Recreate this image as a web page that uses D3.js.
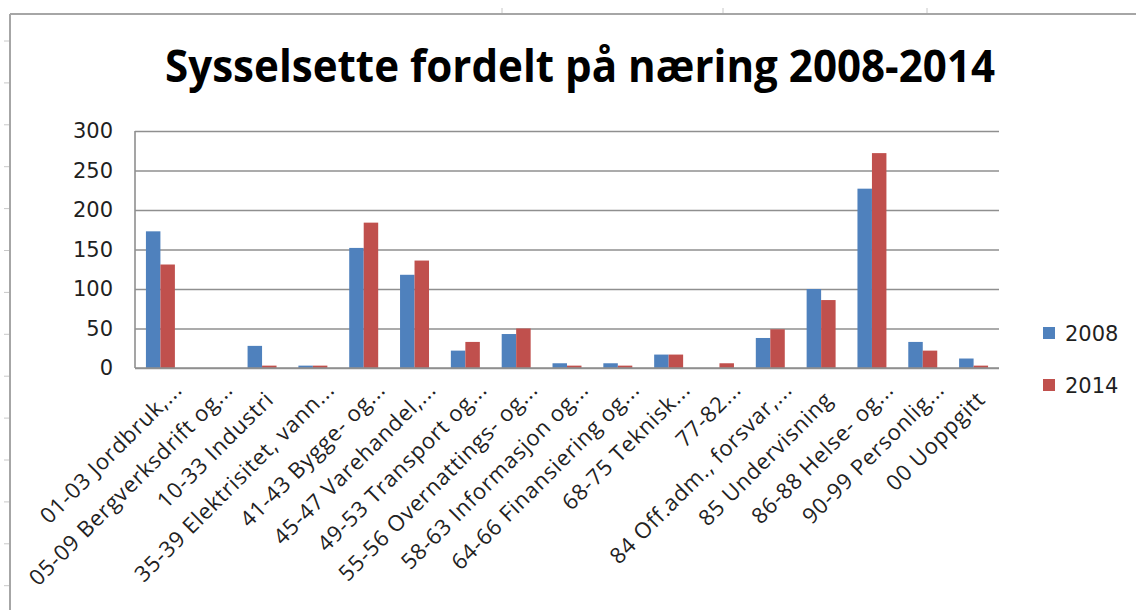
<!DOCTYPE html>
<html>
<head>
<meta charset="utf-8">
<script src="https://cdnjs.cloudflare.com/ajax/libs/d3/7.8.5/d3.min.js"></script>
<style>
  html, body { margin: 0; padding: 0; background: #fff; }
  svg { display: block; }
</style>
</head>
<body>
<svg id="chart" width="1136" height="610"></svg>
<script>
const title = "Sysselsette fordelt på næring 2008-2014";
const categories = [
  "01-03 Jordbruk,...",
  "05-09 Bergverksdrift og...",
  "10-33 Industri",
  "35-39 Elektrisitet, vann...",
  "41-43 Bygge- og...",
  "45-47 Varehandel,...",
  "49-53 Transport og...",
  "55-56 Overnattings- og...",
  "58-63 Informasjon og...",
  "64-66 Finansiering og...",
  "68-75 Teknisk...",
  "77-82...",
  "84 Off.adm., forsvar,...",
  "85 Undervisning",
  "86-88 Helse- og...",
  "90-99 Personlig...",
  "00 Uoppgitt"
];
const seriesNames = ["2008", "2014"];
const values2008 = [173, 0, 28, 3, 152, 118, 22, 43, 6, 6, 17, 0, 38, 100, 227, 33, 12];
const values2014 = [131, 0, 3, 3, 184, 136, 33, 50, 3, 3, 17, 6, 49, 86, 272, 22, 3];
const yTicks = [0, 50, 100, 150, 200, 250, 300];
const colors = ["#4F81BD", "#C0504D"];

const svg = d3.select("#chart");
const W = 1136, H = 610;
const plot = { left: 135, right: 999, top: 131, bottom: 368 };

// spreadsheet frame (decoration)
const frameG = svg.append("g");
frameG.append("line").attr("x1", 10).attr("x2", W).attr("y1", 14).attr("y2", 14)
  .attr("stroke", "#a6a6a6").attr("stroke-width", 2);
frameG.append("line").attr("x1", 10).attr("x2", 10).attr("y1", 14).attr("y2", H)
  .attr("stroke", "#a6a6a6").attr("stroke-width", 2);
frameG.selectAll(".lt").data(d3.range(41, H, 41.9)).enter().append("line")
  .attr("x1", 4).attr("x2", 9).attr("y1", d => d).attr("y2", d => d)
  .attr("stroke", "#c8c8c8").attr("stroke-width", 1);
frameG.selectAll(".tt").data([502, 723, 927]).enter().append("line")
  .attr("x1", d => d).attr("x2", d => d).attr("y1", 8).attr("y2", 13)
  .attr("stroke", "#c8c8c8").attr("stroke-width", 1);

// title
svg.append("text")
  .attr("x", 165).attr("y", 82)
  .attr("textLength", 830).attr("lengthAdjust", "spacingAndGlyphs")
  .attr("font-family", "'Open Sans', 'Noto Sans', sans-serif")
  .attr("font-weight", "bold").attr("font-size", 45)
  .attr("fill", "#000")
  .text(title);

const y = d3.scaleLinear().domain([0, 300]).range([plot.bottom, plot.top]);
const x0 = d3.scaleBand().domain(categories).range([plot.left, plot.right])
  .paddingInner(0.43).paddingOuter(0.215);
const x1 = d3.scaleBand().domain(seriesNames).range([0, x0.bandwidth()]);

// gridlines
const yAxis = d3.axisLeft(y).tickValues(yTicks).tickSize(-(plot.right - plot.left)).tickPadding(22)
  .tickFormat(d3.format("d"));
const gy = svg.append("g").attr("transform", `translate(${plot.left},0)`).call(yAxis);
gy.select(".domain").remove();
gy.selectAll(".tick line").attr("stroke", "#8f8f8f").attr("stroke-width", 1.6);
gy.selectAll(".tick text")
  .attr("font-family", "'DejaVu Sans', Verdana, sans-serif")
  .attr("font-size", 21).attr("fill", "#1f1f1f");

// left axis line
svg.append("line").attr("x1", plot.left).attr("x2", plot.left)
  .attr("y1", plot.top).attr("y2", plot.bottom)
  .attr("stroke", "#8f8f8f").attr("stroke-width", 1.6);

// bars
const rows = categories.map((c, i) => ({ cat: c, vals: [values2008[i], values2014[i]] }));
const groups = svg.append("g").selectAll("g").data(rows).enter().append("g")
  .attr("transform", d => `translate(${x0(d.cat)},0)`);
groups.selectAll("rect").data(d => d.vals.map((v, k) => ({ s: seriesNames[k], v, k })))
  .enter().append("rect")
  .attr("x", d => x1(d.s))
  .attr("y", d => y(d.v))
  .attr("width", x1.bandwidth())
  .attr("height", d => y(0) - y(d.v))
  .attr("fill", d => colors[d.k]);

// bottom axis line
const xAxis = d3.axisBottom(x0).tickSize(0).tickFormat("");
const gx = svg.append("g").attr("transform", `translate(0,${plot.bottom})`).call(xAxis);
gx.select(".domain").attr("stroke", "#8f8f8f").attr("stroke-width", 1.6)
  .attr("d", `M${plot.left},0H${plot.right}`);

// category labels (rotated)
svg.append("g").selectAll("text").data(categories).enter().append("text")
  .attr("transform", d => {
    const cx = x0(d) + x0.bandwidth() / 2;
    const trunc = d.endsWith("...");
    const ax = cx + (trunc ? 23 : 13);
    const ay = plot.bottom + (trunc ? 23 : 33);
    return `translate(${ax},${ay}) rotate(-45)`;
  })
  .attr("text-anchor", "end")
  .attr("font-family", "'Open Sans', 'Noto Sans', sans-serif")
  .attr("font-size", 22).attr("letter-spacing", 0.8).attr("fill", "#222")
  .text(d => d);

// legend
const lg = svg.append("g").selectAll("g").data(seriesNames).enter().append("g")
  .attr("transform", (d, i) => `translate(1043,${333 + i * 52})`);
lg.append("rect").attr("x", 0).attr("y", -6).attr("width", 12).attr("height", 12)
  .attr("fill", (d, i) => colors[i]);
lg.append("text").attr("x", 22).attr("y", 0).attr("dy", "0.36em")
  .attr("font-family", "'DejaVu Sans', Verdana, sans-serif")
  .attr("font-size", 21).attr("fill", "#1f1f1f")
  .text(d => d);
</script>
</body>
</html>
